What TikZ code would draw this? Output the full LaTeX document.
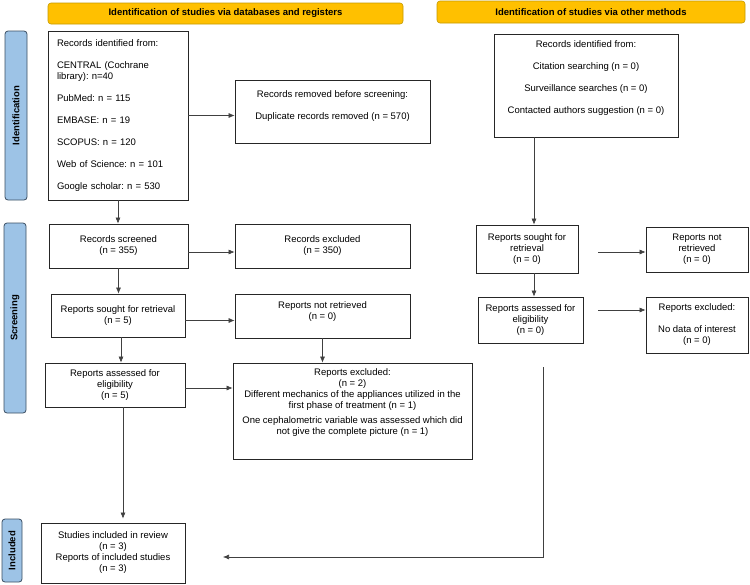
\documentclass[tikz,border=0pt]{standalone}
\usepackage{fontspec}
\setmainfont{Liberation Sans}
\usetikzlibrary{arrows.meta,positioning}

\definecolor{hdrfill}{HTML}{FFC000}
\definecolor{hdrline}{HTML}{C49A00}
\definecolor{barfill}{HTML}{9DC3E6}
\definecolor{barline}{HTML}{3A4E62}

\begin{document}
\begin{tikzpicture}[x=1pt, y=-1pt, >={Latex[length=6pt, width=5pt]}, font=\frenchspacing\fontsize{9.5}{11}\selectfont,
    box/.style={draw=black!85, line width=0.8pt, rectangle, align=center, inner sep=2pt},
    hdr/.style={draw=hdrline, fill=hdrfill, line width=0.6pt, rounded corners=3pt, font=\bfseries\fontsize{9.5}{11}\selectfont},
    bar/.style={draw=barline, fill=barfill, line width=0.8pt, rounded corners=3pt, rotate=90, font=\bfseries\fontsize{9.5}{11}\selectfont},
    conn/.style={->, black!75, line width=0.6pt}]
    \useasboundingbox (0,0) rectangle (750,584);

    % headers and side bars
    \node[hdr, minimum width=355pt, minimum height=21pt] (hdrDb)    at (225.5,13.5) {Identification of studies via databases and registers};
    \node[hdr, minimum width=308pt, minimum height=22pt] (hdrOther) at (591,12)     {Identification of studies via other methods};
    \node[bar, minimum width=169pt, minimum height=22pt] (barId)    at (16,115.5)   {Identification};
    \node[bar, minimum width=190pt, minimum height=22pt] (barScr)   at (15,318)     {Screening};
    \node[bar, minimum width=63pt,  minimum height=20pt] (barInc)   at (12,550.5)   {Included};

    % databases and registers
    \node[box, align=left, text width=122pt, minimum width=140pt, minimum height=169pt] (idDb) at (118,115.5)
        {Records identified from:\\[11pt] CENTRAL (Cochrane\\ library): n=40\\[11pt] PubMed: n = 115\\[11pt] EMBASE: n = 19\\[11pt]
         SCOPUS: n = 120\\[11pt] Web of Science: n = 101\\[11pt] Google scholar: n = 530};
    \node[box, minimum width=195pt, minimum height=63pt, text depth=12pt] (removed) at (332.5,111.5)
        {Records removed before screening:\\[11pt] Duplicate records removed (n = 570)};
    \node[box, minimum width=139pt, minimum height=44pt] (screened) at (118.5,246) {Records screened\\ (n = 355)};
    \node[box, minimum width=175pt, minimum height=44pt] (excluded) at (322.5,246) {Records excluded\\ (n = 350)};
    \node[box, minimum width=134pt, minimum height=43pt] (sought)   at (118,315.5) {Reports sought for retrieval\\ (n = 5)};
    \node[box, minimum width=175pt, minimum height=44pt, text depth=10pt] (notRetr) at (322.5,316) {Reports not retrieved\\ (n = 0)};
    \node[box, minimum width=140pt, minimum height=44pt] (assessed) at (115,385)   {Reports assessed for\\ eligibility\\ (n = 5)};
    \node[box, minimum width=239pt, minimum height=96pt, text depth=18pt] (repExcl) at (352.5,411)
        {Reports excluded:\\ (n = 2)\\ Different mechanics of the appliances utilized in the\\ first phase of treatment (n = 1)\\[4pt]
         One cephalometric variable was assessed which did\\ not give the complete picture (n = 1)};
    \node[box, minimum width=144pt, minimum height=60pt] (included) at (113,553)
        {Studies included in review\\ (n = 3)\\ Reports of included studies\\ (n = 3)};

    % other methods
    \node[box, minimum width=184pt, minimum height=103pt, text depth=17pt] (idOther) at (586,85.5)
        {Records identified from:\\[11pt] Citation searching (n = 0)\\[11pt] Surveillance searches (n = 0)\\[11pt] Contacted authors suggestion (n = 0)};
    \node[box, minimum width=102pt, minimum height=48pt] (soughtO)   at (527,249)   {Reports sought for\\ retrieval\\ (n = 0)};
    \node[box, minimum width=102pt, minimum height=45pt] (notRetrO)  at (697,249.5) {Reports not\\ retrieved\\ (n = 0)};
    \node[box, minimum width=105pt, minimum height=46pt] (assessedO) at (530.5,320) {Reports assessed for\\ eligibility\\ (n = 0)};
    \node[box, minimum width=102pt, minimum height=56pt] (exclO)     at (697,325)   {Reports excluded:\\[11pt] No data of interest\\ (n = 0)};

    \coordinate (dropO)    at (534,137);
    \coordinate (gapA)     at (598,252);
    \coordinate (gapB)     at (598,310);
    \coordinate (mergeTop) at (543,367);
    \coordinate (mergeEnd) at (223,557);

    \path[conn] (idDb.east)                  edge (idDb.east -| removed.west)
                (idDb.south)                 edge (idDb.south |- screened.north)
                ([yshift=-6pt]screened.east) edge ([yshift=-6pt]screened.east -| excluded.west)
                (screened.south)             edge (screened.south |- sought.north)
                ([yshift=-5pt]sought.east)   edge ([yshift=-5pt]sought.east -| notRetr.west)
                ([xshift=3pt]sought.south)   edge ([xshift=3pt]sought.south |- assessed.north)
                (notRetr.south)              edge (notRetr.south |- repExcl.north)
                ([yshift=-3pt]assessed.east) edge ([yshift=-3pt]assessed.east -| repExcl.west)
                ([xshift=8pt]assessed.south) edge [shorten >=4pt] ([xshift=8pt]assessed.south |- included.north)
                (dropO)                      edge (dropO |- soughtO.north)
                (gapA)                       edge (gapA -| notRetrO.west)
                (dropO |- soughtO.south)     edge (dropO |- assessedO.north)
                (gapB)                       edge (gapB -| exclO.west);
    \draw[conn] (mergeTop) |- (mergeEnd);
\end{tikzpicture}
\end{document}
